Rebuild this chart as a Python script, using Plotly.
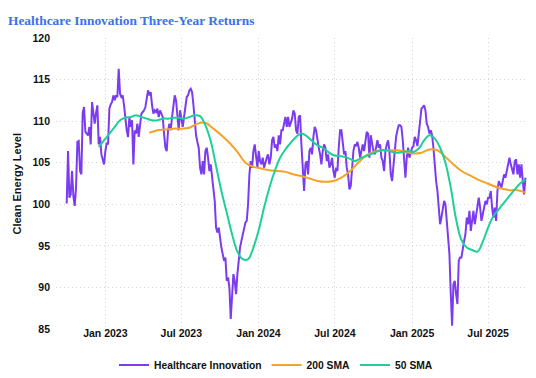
import pandas as pd
import plotly.graph_objects as go

# ---- data ----
start_date = "2022-10-01"
end_date = "2025-09-28"

hc_2022_2023 = [
    100.1, 106.4, 100.8, 101.2, 104.0, 101.0, 99.8, 102.0, 107.5, 107.6, 104.0, 103.6,
    111.0, 111.7, 108.7, 108.5, 108.3, 109.3, 107.2, 112.3, 110.8, 109.7, 111.0, 111.9,
    107.2, 108.1, 106.0, 105.2, 104.8, 106.4, 107.4, 107.2, 111.5, 112.0, 112.3, 113.1,
    112.5, 113.1, 112.9, 116.3, 113.3, 112.9, 113.1, 111.9, 110.3, 108.9, 108.1, 110.5,
    109.3, 110.1, 104.8, 108.9, 108.5, 109.7, 108.1, 109.3, 110.9, 111.1, 111.3, 111.7,
    112.9, 113.7, 113.1, 113.5, 111.9, 110.9, 111.3, 111.1, 111.5, 110.5, 111.3, 110.9,
    110.5, 108.5, 106.8, 106.4, 108.9, 109.7, 108.9, 110.5, 111.7, 113.1, 112.5, 110.5,
]
hc_2023_2024 = [
    108.9, 111.3, 110.1, 109.3, 110.5, 112.1, 112.9, 113.1, 113.7, 113.9, 113.5, 112.0,
    109.7, 108.3, 107.5, 106.8, 104.4, 103.6, 105.2, 103.6, 106.4, 106.8, 105.6, 104.0,
    104.8, 103.2, 102.0, 100.4, 97.2, 96.6, 97.2, 95.6, 94.8, 94.0, 93.2, 93.6,
    90.8, 91.2, 90.0, 86.2, 88.4, 91.6, 90.8, 89.2, 91.6, 93.6, 94.8, 95.6,
    96.4, 97.2, 97.8, 98.0, 100.0, 103.6, 105.2, 104.4, 106.4, 107.2, 106.0, 104.4,
    106.4, 105.2, 104.8, 105.6, 104.4, 105.2, 105.6, 106.0, 104.8, 105.6, 107.7, 108.1,
    106.8, 107.2, 106.4, 108.3, 107.2, 108.9, 108.9, 109.7, 110.5, 109.3, 110.5, 109.3,
    109.7, 110.3, 111.3, 110.9, 108.9, 108.5,
]
hc_2024_2025 = [
    110.5, 110.7, 107.2, 103.6, 101.6, 104.8, 105.2, 103.6, 106.4, 106.8, 106.0, 108.1,
    109.3, 108.9, 107.7, 106.8, 106.0, 104.8, 106.4, 107.2, 106.8, 105.2, 106.0, 104.4,
    104.8, 105.6, 104.0, 103.2, 104.4, 104.0, 106.8, 108.9, 108.9, 107.2, 106.0, 106.4,
    104.4, 103.6, 101.8, 102.2, 104.4, 106.4, 107.2, 107.0, 107.5, 106.8, 105.6, 106.4,
    107.2, 106.4, 107.5, 108.7, 108.5, 105.6, 108.3, 107.2, 106.4, 106.0, 106.8, 107.7,
    106.8, 107.2, 105.6, 105.2, 104.0, 106.4, 107.2, 107.7, 106.4, 103.6, 102.8, 104.4,
    106.8, 108.1, 108.9, 109.5, 109.5, 109.3, 107.7, 105.2, 103.2, 105.6, 106.8, 105.6,
    106.4, 106.8, 107.0, 108.1, 107.7, 107.0,
]
hc_2025 = [
    108.5, 110.3, 111.5, 111.7, 111.9, 111.3, 109.7, 109.3, 108.5, 108.9, 108.3, 106.8,
    104.4, 102.8, 101.6, 100.0, 97.6, 98.4, 99.2, 100.4, 100.0, 97.6, 96.0, 94.0,
    89.2, 85.4, 90.4, 90.8, 89.2, 88.0, 93.2, 93.6, 93.6, 94.8, 95.6, 96.4,
    98.4, 97.6, 99.2, 96.8, 98.0, 99.2, 97.6, 98.8, 99.6, 100.8, 99.6, 98.0,
    98.8, 99.6, 100.4, 100.0, 100.8, 100.8, 101.6, 99.6, 98.4, 99.6, 98.0, 101.6,
    102.8, 102.4, 102.0, 102.8, 103.6, 103.2, 104.0, 105.2, 105.6, 104.8, 104.0, 103.6,
    105.2, 105.4, 103.6, 104.8, 103.2, 104.8, 102.8, 101.2, 103.2,
]
healthcare_innovation = hc_2022_2023 + hc_2023_2024 + hc_2024_2025 + hc_2025

sma50_values = [
    106.9, 107.7, 108.5, 109.3, 110.1, 110.4, 110.5, 110.7, 110.5, 110.3, 110.1, 110.1,
    110.3, 110.3, 110.4,
    110.4, 110.3, 110.5, 110.7, 110.6, 109.5, 107.6, 104.6, 101.6, 99.0, 96.4, 94.3,
    93.4, 93.4, 94.8, 96.9, 99.6, 102.0, 104.0, 105.6, 106.6, 107.4, 108.1,
    108.5, 108.2, 107.6, 107.1, 106.8, 106.3, 105.9, 105.8, 105.7, 105.5, 105.2, 105.5,
    105.8, 106.0, 106.3, 106.5, 106.5, 106.3, 106.2, 106.3, 106.4, 106.3,
    106.7, 107.7, 108.3, 107.9, 106.8, 105.0, 102.0, 98.2, 95.7, 94.8, 94.5, 94.3,
    95.5, 97.2, 98.6, 99.4, 100.2, 101.0, 101.8, 102.5, 103.0,
]
sma200_values = [
    108.6, 108.9, 109.0, 109.1, 109.1, 109.2, 109.7, 109.8, 109.1, 108.3, 107.4, 106.3,
    105.0, 104.5, 104.3, 104.1, 104.0, 103.9, 103.6, 103.4, 103.1, 102.8, 102.7, 102.8,
    103.2, 103.9, 104.9, 105.8, 106.3, 106.5, 106.5, 106.5, 106.3, 106.1, 106.2, 106.6,
    106.5, 105.7, 104.8, 104.0, 103.5, 103.0, 102.6, 102.2, 101.9, 101.7, 101.7, 101.4,
]

series_names = ["Healthcare Innovation", "200 SMA", "50 SMA"]
series_colors = ["#7b3cf0", "#f5a229", "#1fcf98"]

y_ticks = [85, 90, 95, 100, 105, 110, 115, 120]
y_title = "Clean Energy Level"
chart_title = "Healthcare Innovation Three-Year Returns"

dates = pd.date_range(start_date, end_date, periods=len(healthcare_innovation))
sma50_dates = dates[24::4][: len(sma50_values)]
sma200_dates = dates[62::6][: len(sma200_values)]

font_family = "Liberation Sans, Arial, sans-serif"
grid_color = "#d4d4d4"
grid_dash = "1px,3px"

fig = go.Figure()
fig.add_trace(go.Scatter(x=dates, y=healthcare_innovation, mode="lines",
                         name=series_names[0],
                         line=dict(color=series_colors[0], width=2)))
fig.add_trace(go.Scatter(x=sma200_dates, y=sma200_values, mode="lines",
                         name=series_names[1], line_shape="spline",
                         line=dict(color=series_colors[1], width=2)))
fig.add_trace(go.Scatter(x=sma50_dates, y=sma50_values, mode="lines",
                         name=series_names[2], line_shape="spline",
                         line=dict(color=series_colors[2], width=2)))

fig.update_layout(
    width=536, height=378,
    margin=dict(l=48, r=11, t=30, b=57),
    paper_bgcolor="white", plot_bgcolor="white",
    font=dict(family=font_family, color="#111111"),
    title=dict(text="<b>" + chart_title + "</b>",
               font=dict(family="Liberation Serif, Times New Roman, serif",
                         size=13.4, color="#3b6ff0"),
               xref="container", x=0, xanchor="left",
               yref="container", y=1 - 12 / 378, yanchor="middle"),
    showlegend=True,
    legend=dict(orientation="h", xref="container", x=0.5, xanchor="center",
                yref="container", y=1 - 357 / 378, yanchor="middle",
                font=dict(size=10.3, family=font_family, color="#111111", weight="bold"),
                itemwidth=30, tracegroupgap=0),
    xaxis=dict(range=["2022-09-05 12:00", "2025-10-16"], dtick="M6",
               tick0="2023-01-01", tickformat="%b %Y",
               showgrid=True, gridcolor=grid_color, griddash=grid_dash, gridwidth=1,
               zeroline=False, showline=False, ticks="", ticklabelstandoff=-4,
               tickfont=dict(size=10.5, weight="bold", color="#111111")),
    yaxis=dict(range=[85, 120], tickvals=y_ticks,
               showgrid=True, gridcolor=grid_color, griddash=grid_dash, gridwidth=1,
               zeroline=False, showline=False, ticks="", ticklabelstandoff=5,
               tickfont=dict(size=10.5, weight="bold", color="#111111")),
    annotations=[dict(text="<b>" + y_title + "</b>", textangle=-90,
                      xref="paper", yref="paper", x=0, y=0.5, xshift=-40,
                      xanchor="center", yanchor="middle", showarrow=False,
                      font=dict(size=11, color="#111111", family=font_family))],
)

fig.write_html("out.html")
